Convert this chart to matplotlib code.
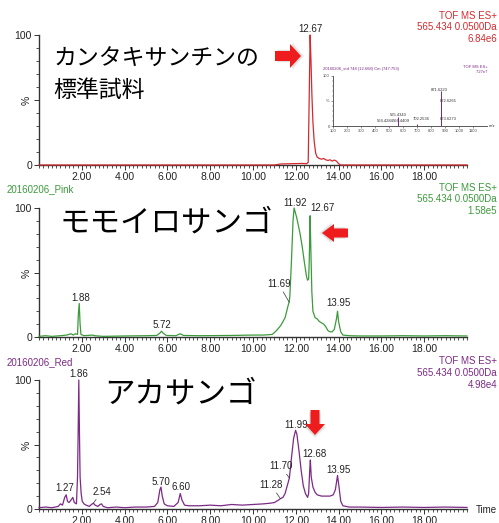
import numpy as np
import matplotlib
matplotlib.use("Agg")
import matplotlib.pyplot as plt
from matplotlib.patches import FancyArrow
from matplotlib.ticker import MultipleLocator

W, H = 499, 523
plt.rcParams["font.family"] = ["Liberation Sans", "DejaVu Sans"]
JP = ["Noto Sans CJK JP", "DejaVu Sans"]

# --- chromatogram traces (time in min, intensity in %) ---
std_time = [0, 11.0, 11.3, 11.8, 12.3, 12.5, 12.58, 12.62, 12.67, 12.71, 12.75, 12.8,
            12.86, 12.93, 13.0, 13.1, 13.2, 13.3, 13.4, 13.5, 13.6, 13.7, 13.8, 13.9,
            14.0, 14.1, 20]
std_intensity = [0, 0, 0.8, 1, 1.2, 1, 2, 45, 100, 80, 55, 33, 18, 9, 6, 5, 4.5, 5, 4, 3.5,
                 4, 3, 3.8, 3, 1, 0, 0]

pink_time = [0, 0.3, 0.6, 1.0, 1.3, 1.5, 1.6, 1.7, 1.8, 1.84, 1.88, 1.92, 1.96, 2.1, 2.5,
             2.6, 3.0, 4.0, 5.0, 5.5, 5.65, 5.72, 5.8, 5.95, 6.4, 6.6, 6.75, 7.5, 9.0,
             10.0, 10.5, 10.9, 11.1, 11.3, 11.5, 11.65, 11.69, 11.72, 11.8, 11.87, 11.92,
             11.97, 12.05, 12.1, 12.2, 12.3, 12.4, 12.5, 12.55, 12.6, 12.63, 12.67, 12.7,
             12.75, 12.8, 12.9, 13.0, 13.1, 13.2, 13.3, 13.4, 13.5, 13.6, 13.7, 13.8,
             13.9, 13.95, 14.0, 14.1, 14.2, 14.5, 15, 16, 17, 18, 19, 20]
pink_intensity = [0.5, 1, 0.5, 1, 1.5, 2.5, 1.5, 2.5, 2, 18, 26, 10, 2, 1, 1.5,
                  1, 0.5, 0.8, 1, 1.2, 3, 4.5, 3, 1.2, 1, 2.5, 1.2, 1, 1.2,
                  1.5, 1.5, 2, 5, 9, 15, 25, 27, 31, 60, 90, 100,
                  97, 92, 88, 80, 70, 58, 47, 44, 45, 60, 94, 70,
                  35, 20, 15, 14, 12, 11, 10, 8, 5, 4, 4, 6,
                  14, 20, 12, 4, 1.5, 1, 0.8, 0.8, 1, 0.8, 1, 0.8]

red_time = [0, 0.3, 0.6, 0.9, 1.0, 1.1, 1.2, 1.27, 1.33, 1.4, 1.5, 1.58, 1.65, 1.75, 1.8,
            1.83, 1.86, 1.89, 1.92, 1.97, 2.02, 2.1, 2.2, 2.35, 2.45, 2.54, 2.62, 2.75,
            2.85, 2.92, 3.0, 3.2, 3.6, 4.0, 4.5, 5.0, 5.4, 5.55, 5.65, 5.70, 5.76, 5.85,
            6.0, 6.3, 6.5, 6.6, 6.68, 6.8, 7.0, 7.5, 8.0, 8.5, 9.0, 9.5, 10.0, 10.5,
            10.8, 11.0, 11.2, 11.28, 11.4, 11.5, 11.6, 11.7, 11.8, 11.9, 11.99, 12.05,
            12.15, 12.25, 12.35, 12.45, 12.55, 12.6, 12.65, 12.68, 12.72, 12.8, 12.9,
            13.0, 13.2, 13.4, 13.6, 13.75, 13.85, 13.95, 14.02, 14.1, 14.2, 14.5, 15,
            16, 17, 18, 19, 20]
red_intensity = [1, 1.5, 1, 2, 4, 3, 9, 11, 6, 5, 7, 9, 5, 4, 25,
                 60, 100, 60, 25, 12, 6, 4, 3, 2, 3.5, 4.5, 3, 2,
                 3.5, 4, 2, 1, 1.5, 1, 1.5, 1.5, 2, 5, 15, 17, 10, 4,
                 2.5, 2, 5, 12, 7, 3, 2.5, 2.5, 3, 2.5, 3.5, 3, 3.5, 4,
                 4.5, 5, 7, 8, 9, 12, 18, 24, 40, 55, 61, 58,
                 45, 30, 18, 12, 9, 12, 30, 38, 25, 17, 13,
                 11, 10, 10, 10, 11, 15, 26, 17, 6, 2.5, 1.5, 1.5,
                 1.2, 1.5, 1.2, 1.5, 1.2]

# --- inset mass spectrum (m/z, %) ---
ms_mz = [564.4284, 565.4343, 566.4409, 702.2536, 871.6223, 872.6265, 873.6273]
ms_intensity = [4, 17, 4, 5, 69, 45, 10]
ms_labels = ["564.4284", "565.4343", "566.4409", "702.2536", "871.6223", "872.6265", "873.6273"]

# --- panel texts ---
std_color, pink_color, red_color = "#d42a2f", "#3c9a3c", "#7d2a86"
panel_info = [("", "6.84e6", std_color), ("20160206_Pink", "1.58e5", pink_color),
              ("20160206_Red", "4.98e4", red_color)]
x_ticks = [2, 4, 6, 8, 10, 12, 14, 16, 18]


def px_axes(fig, x0, y_top, x1, y_bot):
    return fig.add_axes([x0 / W, 1 - y_bot / H, (x1 - x0) / W, (y_bot - y_top) / H])


def style_panel(ax):
    ax.set_xlim(0, 20)
    ax.set_ylim(0, 100)
    for s in ("top", "right"):
        ax.spines[s].set_visible(False)
    for s in ("left", "bottom"):
        ax.spines[s].set_color("#333333")
        ax.spines[s].set_linewidth(1.0)
    ax.set_xticks(x_ticks)
    ax.set_xticklabels([f"{t:.2f}" for t in x_ticks])
    ax.xaxis.set_minor_locator(MultipleLocator(0.2))
    ax.set_yticks([0, 50, 100])
    ax.set_yticklabels(["0", "%", "100"])
    ax.get_yticklabels()[1].set_rotation(90)
    ax.get_yticklabels()[1].set_fontsize(5.5)
    ax.yaxis.set_minor_locator(MultipleLocator(10))
    ax.tick_params(axis="both", which="major", labelsize=7.5, colors="#333333",
                   length=3.5, width=0.7, pad=1.5, labelcolor="#222222")
    ax.tick_params(axis="both", which="minor", length=2, width=0.6, colors="#333333")
    ax.patch.set_alpha(0)


def peak_label(ax, text, xy, xytext=None, lead=False):
    if xytext is None:
        xytext = (xy[0], xy[1] + 5)
    props = dict(arrowstyle="-", lw=0.5, color="#333333", shrinkA=0, shrinkB=0) if lead else None
    ax.annotate(text, xy=xy, xytext=xytext, fontsize=7, color="#222222",
                ha="center", va="center", arrowprops=props, annotation_clip=False)


fig = plt.figure(figsize=(W / 100, H / 100), dpi=100)

ax1 = px_axes(fig, 39, 35, 467, 165)
ax2 = px_axes(fig, 39, 208, 467, 337)
ax3 = px_axes(fig, 39, 380, 467, 509)
ov = fig.add_axes([0, 0, 1, 1], zorder=10)
ov.set_xlim(0, W)
ov.set_ylim(H, 0)
ov.axis("off")
ov.patch.set_alpha(0)

for ax, (t, v), (name, scale, col), y_lbl in zip(
        (ax1, ax2, ax3),
        ((std_time, std_intensity), (pink_time, pink_intensity), (red_time, red_intensity)),
        panel_info, (16, 188, 361.5)):
    style_panel(ax)
    ax.plot(t, v, color=col, lw=0.9, clip_on=False, zorder=3)
    ov.text(497, y_lbl, "TOF MS ES+", color=col, fontsize=7, ha="right", va="center")
    ov.text(497, y_lbl + 11.5, "565.434 0.0500Da", color=col, fontsize=7, ha="right", va="center")
    ov.text(497, y_lbl + 23, scale, color=col, fontsize=7, ha="right", va="center")
    if name:
        ov.text(7, y_lbl + 1, name, color=col, fontsize=7, ha="left", va="center")

# peak labels
peak_label(ax1, "12.67", (12.67, 100))
peak_label(ax2, "11.92", (11.92, 100), (11.95, 104))
peak_label(ax2, "12.67", (12.67, 94), (13.25, 100))
peak_label(ax2, "11.69", (11.69, 27), (11.2, 41), lead=True)
peak_label(ax2, "13.95", (13.95, 20), (14.0, 26))
peak_label(ax2, "1.88", (1.88, 26), (1.95, 30))
peak_label(ax2, "5.72", (5.72, 4.5), (5.75, 9))
peak_label(ax3, "1.86", (1.86, 100), (1.86, 105))
peak_label(ax3, "1.27", (1.27, 11), (1.2, 16))
peak_label(ax3, "2.54", (2.54, 4.5), (2.93, 13.5), lead=True)
peak_label(ax3, "5.70", (5.70, 17), (5.7, 21))
peak_label(ax3, "6.60", (6.60, 12), (6.65, 17))
peak_label(ax3, "11.28", (11.28, 8), (10.85, 18.5), lead=True)
peak_label(ax3, "11.70", (11.70, 24), (11.3, 33), lead=True)
peak_label(ax3, "11.99", (11.99, 61), (12.03, 65))
peak_label(ax3, "12.68", (12.68, 38), (12.85, 43))
peak_label(ax3, "13.95", (13.95, 26), (14.0, 30))

ov.text(476, 510, "Time", fontsize=7, color="#222222", ha="left", va="center")

# Japanese sample names
ov.text(53, 59, "カンタキサンチンの", family=JP, fontsize=16.5, ha="left", va="center")
ov.text(53, 90, "標準試料", family=JP, fontsize=16.5, ha="left", va="center")
ov.text(60, 223, "モモイロサンゴ", family=JP, fontsize=22, ha="left", va="center")
ov.text(104, 394, "アカサンゴ", family=JP, fontsize=22, ha="left", va="center")


def red_arrow(x, y, dx, dy, width, head_w, head_l):
    for k, a in ((3.0, 0.10), (1.8, 0.15)):
        sx = np.sign(dx) * k
        sy = np.sign(dy) * k
        ov.add_patch(FancyArrow(x + sx, y + sy, dx, dy, width=width + k, head_width=head_w + k,
                                head_length=head_l, length_includes_head=True,
                                color="#777777", alpha=a, lw=0))
    ov.add_patch(FancyArrow(x, y, dx, dy, width=width, head_width=head_w, head_length=head_l,
                            length_includes_head=True, color="#ee1c1c", lw=0))


red_arrow(275, 56, 26, 0, 10, 24, 11)
red_arrow(348, 233, -26, 0, 9, 18, 12)
red_arrow(315, 410, 0, 25, 9, 20, 11)

# inset mass spectrum
axi = px_axes(fig, 333, 76, 487, 126)
axi.set_xlim(100, 1200)
axi.set_ylim(0, 100)
for s in ("top", "right"):
    axi.spines[s].set_visible(False)
for s in ("left", "bottom"):
    axi.spines[s].set_linewidth(0.6)
    axi.spines[s].set_color("#444444")
axi.vlines(ms_mz, 0, ms_intensity, color=red_color, lw=0.7)
axi.set_xticks(np.arange(100, 1200, 100))
axi.xaxis.set_minor_locator(MultipleLocator(20))
axi.set_yticks([0, 50, 100])
axi.set_yticklabels(["0", "%", "100"])
axi.yaxis.set_minor_locator(MultipleLocator(10))
axi.tick_params(which="major", labelsize=3, length=1.5, width=0.4, pad=0.8, colors="#444444")
axi.tick_params(which="minor", length=0.8, width=0.3, colors="#444444")
axi.patch.set_alpha(0)
inset_text_pos = [(471, 10), (564, 22), (591, 10), (733, 14), (857, 72), (921, 49), (921, 13)]
for lbl, (tx, ty) in zip(ms_labels, inset_text_pos):
    axi.text(tx, ty, lbl, fontsize=3, color="#333333", ha="center", va="center")
axi.text(1215, 0, "m/z", fontsize=3, color="#333333", ha="left", va="center", clip_on=False)
ov.text(323, 69, "20160206_std 748 (12.668) Cm (747:753)", fontsize=3, color=red_color,
        ha="left", va="center")
ov.text(488, 67, "TOF MS ES+", fontsize=3, color=red_color, ha="right", va="center")
ov.text(488, 72, "7.27e7", fontsize=3, color=red_color, ha="right", va="center")

fig.savefig("out.png", dpi=100)
plt.close(fig)
